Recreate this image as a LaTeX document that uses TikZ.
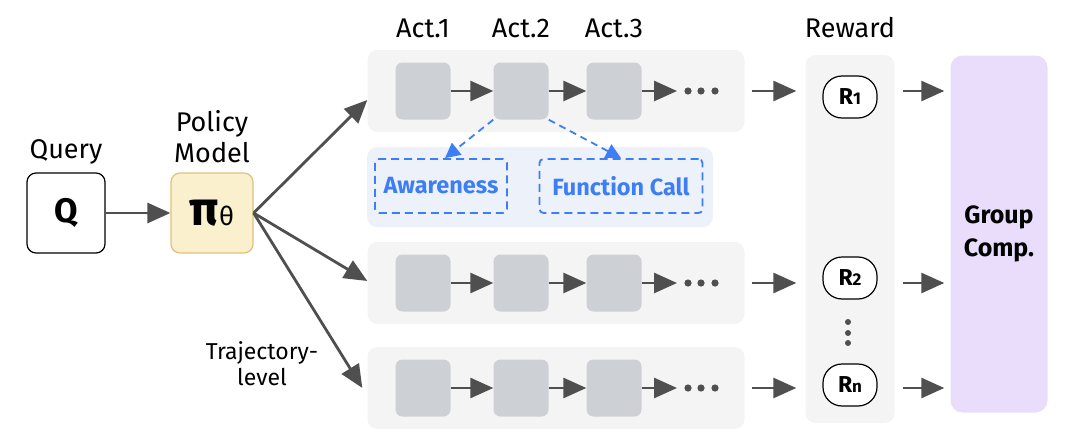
\documentclass[tikz,border=0pt]{standalone}
\usepackage{amsmath,amssymb,bm}
\usepackage{fontspec}
\setmainfont{Fira Sans}
\usetikzlibrary{arrows.meta,positioning}

\definecolor{arrowgray}{HTML}{4F4F4F}
\definecolor{rowgray}{HTML}{F4F4F4}
\definecolor{actgray}{HTML}{CDD0D4}
\definecolor{polfill}{HTML}{FBF0CD}
\definecolor{poldraw}{HTML}{DCC27A}
\definecolor{toolblue}{HTML}{3D7EF5}
\definecolor{toolbg}{HTML}{EDF2FA}
\definecolor{groupfill}{HTML}{E9DDFB}

\tikzset{
  flow/.style={draw=arrowgray, line width=2.8pt, -{Triangle[length=23pt,width=20pt]}},
  toolflow/.style={draw=toolblue, line width=1.8pt, dash pattern=on 7pt off 5pt, -{Triangle[length=15pt,width=15pt]}},
  rowbg/.style={fill=rowgray, rounded corners=10pt, minimum width=377pt, minimum height=82pt, inner sep=0pt},
  actbox/.style={fill=actgray, rounded corners=7pt, minimum width=55pt, minimum height=57pt, inner sep=0pt},
  rewbox/.style={draw=black, line width=1.2pt, fill=white, rounded corners=19pt, minimum width=54pt, minimum height=42pt, inner sep=0pt, font=\fontsize{23}{23}\selectfont\bfseries},
  tooldash/.style={draw=toolblue, line width=1.8pt, dash pattern=on 8pt off 5pt, rounded corners=4pt, text=toolblue, inner sep=0pt, font=\fontsize{23.5}{24}\selectfont\bfseries},
  lbl/.style={font=\fontsize{27}{31}\selectfont, align=center},
}

\begin{document}
\begin{tikzpicture}[x=1pt, y=-1pt]
    \useasboundingbox (0,0) rectangle (1080,439);

    % query and policy
    \node[draw=black, line width=1.2pt, rounded corners=9pt, minimum width=78pt, minimum height=80pt, font=\fontsize{34}{34}\selectfont\bfseries] (query) at (66,213) {Q};
    \node[lbl] (querylbl) at (66,152) {Query};
    \node[draw=poldraw, fill=polfill, line width=1.2pt, rounded corners=9pt, minimum width=82pt, minimum height=80pt, inner sep=0pt] (policy) at (212,213)
        {{\fontsize{48}{48}\selectfont\bfseries π}{\fontsize{26}{26}\selectfont θ}};
    \node[lbl] (policylbl) at (212,137) {Policy\\Model};
    \draw[flow] (query) -- (policy);

    % trajectories
    \foreach \r/\y in {1/91,2/283,3/388} {
        \node[rowbg] (row\r) at (556,\y) {};
        \node[actbox] (a\r1) at (423,\y) {};
        \node[actbox] (a\r2) at (521,\y) {};
        \node[actbox] (a\r3) at (614,\y) {};
        \coordinate (e\r) at (677,\y);
        \draw[flow] (a\r1) -- (a\r2);
        \draw[flow] (a\r2) -- (a\r3);
        \draw[flow] (a\r3) -- (e\r);
        \foreach \d in {688,701,715}
            \fill[arrowgray] (\d,\y) circle (3.6pt);
    }

    \node[lbl] (act1) at (423,28) {Act.1};
    \node[lbl] (act2) at (521,28) {Act.2};
    \node[lbl] (act3) at (614,28) {Act.3};

    \draw[flow] (policy.east) -- ([yshift=-9pt]row1.west);
    \draw[flow] (policy.east) -- ([yshift=2pt]row2.west);
    \draw[flow] (policy.east) -- ([xshift=-5pt]row3.west);
    \node[font=\fontsize{23}{26}\selectfont, align=center] (trajlbl) at (262,364) {Trajectory-\\level};

    % tools
    \node[fill=toolbg, rounded corners=10pt, minimum width=346pt, minimum height=80pt] (toolpanel) at (540,187) {};
    \node[tooldash, minimum width=132pt, minimum height=54pt] (aware) at (441,186) {Awareness};
    \node[tooldash, minimum width=163pt, minimum height=54pt] (func) at (621,186) {Function Call};
    \draw[toolflow] (a12.south west) -- ([xshift=4pt]aware.north);
    \draw[toolflow] (a12.south east) -- (func.north);

    % reward
    \node[fill=rowgray, rounded corners=10pt, minimum width=89pt, minimum height=368pt] (rewcol) at (850,239) {};
    \node[lbl] (rewlbl) at (850,28) {Reward};
    \node[rewbox] (R1) at (850,97) {R{\fontsize{17}{17}\selectfont 1}};
    \node[rewbox] (R2) at (850,278) {R{\fontsize{17}{17}\selectfont 2}};
    \node[rewbox] (R3) at (850,385) {R{\fontsize{17}{17}\selectfont n}};
    \foreach \d in {322,333,343}
        \fill[arrowgray] (848,\d) circle (3pt);

    % group
    \node[fill=groupfill, rounded corners=12pt, minimum width=97pt, minimum height=357pt, align=center, font=\fontsize{25}{33}\selectfont\bfseries] (group) at (999,234) {Group\\Comp.};

    \foreach \r in {1,2,3} {
        \draw[flow, shorten >=9pt] ([xshift=7pt]row\r.east) -- (rewcol.west |- row\r.east);
        \draw[flow, shorten >=6pt] ([xshift=8pt]rewcol.east |- row\r.east) -- (group.west |- row\r.east);
    }
\end{tikzpicture}
\end{document}
